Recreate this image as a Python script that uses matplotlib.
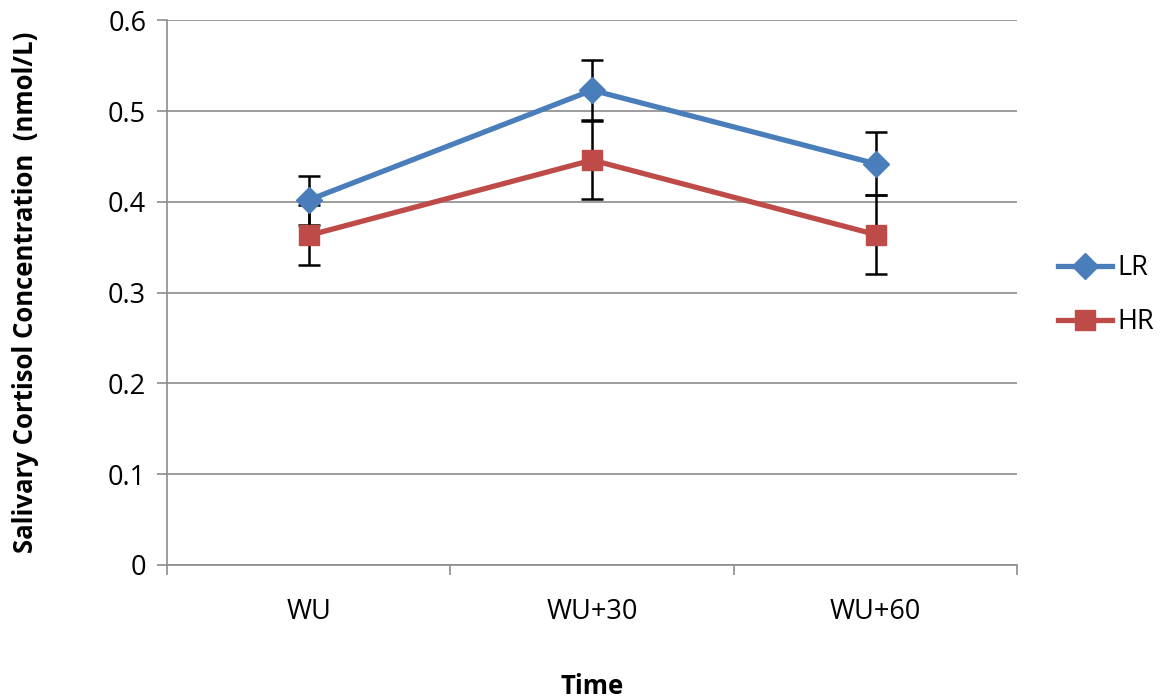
import matplotlib.pyplot as plt
import numpy as np

plt.rcParams['font.family'] = ['Open Sans', 'DejaVu Sans']

categories = ['WU', 'WU+30', 'WU+60']
lr_mean = [0.402, 0.523, 0.442]
lr_err = [0.027, 0.033, 0.035]
hr_mean = [0.363, 0.446, 0.364]
hr_err = [0.033, 0.043, 0.043]

fig = plt.figure(figsize=(11.6, 7), dpi=100)
ax = fig.add_axes([0.144, 0.193, 0.733, 0.778])

x = np.arange(len(categories))
blue = '#4a7ebb'
red = '#be4b48'

ax.errorbar(x, lr_mean, yerr=lr_err, fmt='none', ecolor='black', elinewidth=1.8,
            capsize=8, capthick=1.8, zorder=2)
ax.errorbar(x, hr_mean, yerr=hr_err, fmt='none', ecolor='black', elinewidth=1.8,
            capsize=8, capthick=1.8, zorder=2)
ax.plot(x, lr_mean, color=blue, lw=3.8, marker='D', markersize=13, label='LR', zorder=4)
ax.plot(x, hr_mean, color=red, lw=3.8, marker='s', markersize=15, label='HR', zorder=3)

ax.set_xlim(-0.5, 2.5)
ax.set_ylim(0, 0.6)
ax.set_yticks(np.arange(0, 0.61, 0.1))
ax.set_yticklabels(['0', '0.1', '0.2', '0.3', '0.4', '0.5', '0.6'])
ax.yaxis.grid(True, color='#8c8c8c', lw=1.2)
ax.set_axisbelow(True)
ax.set_xticks(x)
ax.set_xticklabels(categories)
ax.set_xticks([-0.5, 0.5, 1.5, 2.5], minor=True)
ax.tick_params(axis='x', which='major', length=0, labelsize=19.5, pad=24)
ax.tick_params(axis='x', which='minor', length=7, color='#8c8c8c', width=1.2)
ax.tick_params(axis='y', length=7, color='#8c8c8c', width=1.2, labelsize=19.5, pad=8)
for s in ['top', 'right']:
    ax.spines[s].set_visible(False)
for s in ['left', 'bottom']:
    ax.spines[s].set_color('#8c8c8c')
    ax.spines[s].set_linewidth(1.2)

ax.set_ylabel('Salivary Cortisol Concentration  (nmol/L)', fontsize=18.5, fontweight='bold', labelpad=50)
ax.set_xlabel('Time', fontsize=18.5, fontweight='bold', labelpad=34)

ax.legend(loc='center left', bbox_to_anchor=(1.048, 0.495), frameon=False, fontsize=19.5,
          borderaxespad=0, borderpad=0, handlelength=2.0, labelspacing=0.95,
          handletextpad=0.2)

fig.savefig('out.png', dpi=100)
